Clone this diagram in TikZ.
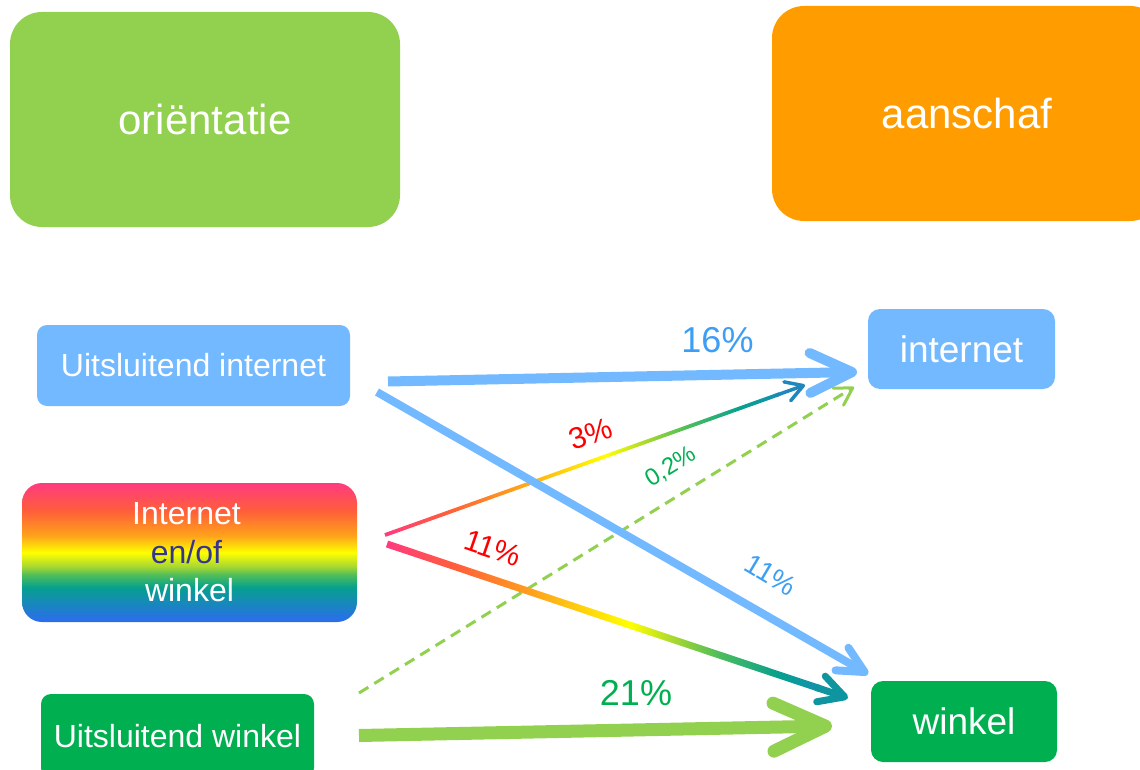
\documentclass[tikz,border=0pt]{standalone}
\usepackage{fontspec}
\setmainfont{Liberation Sans}
\usetikzlibrary{arrows.meta,calc}
\definecolor{lgreen}{HTML}{92D050}
\definecolor{dgreen}{HTML}{00B050}
\definecolor{lblue}{HTML}{73B9FF}
\definecolor{tblue}{HTML}{3C9EF5}
\definecolor{orng}{HTML}{FF9C00}
\definecolor{enof}{HTML}{35358F}
\definecolor{rpink}{HTML}{FF3B80}
\definecolor{rred}{HTML}{FF5E3A}
\definecolor{rorange}{HTML}{FFA31A}
\definecolor{ryellow}{HTML}{FFFF00}
\definecolor{rlime}{HTML}{A8D830}
\definecolor{rgreen}{HTML}{50BE5A}
\definecolor{rteal}{HTML}{06A08E}
\definecolor{rblue}{HTML}{2C6CF0}
\definecolor{rbluet}{HTML}{1590B0}
\definecolor{tipa}{HTML}{1F86BE}
\definecolor{tipb}{HTML}{0E95A0}
\pgfdeclareverticalshading{rainbowv}{100bp}{color(0bp)=(rblue); color(25bp)=(rblue); color(37.5bp)=(rteal); color(42bp)=(rgreen); color(45bp)=(rlime); color(50bp)=(ryellow); color(56bp)=(rorange); color(65bp)=(rred); color(75bp)=(rpink); color(100bp)=(rpink)}
\pgfdeclarehorizontalshading{rainbowh}{100bp}{color(0bp)=(rpink); color(25bp)=(rpink); color(33bp)=(rred); color(42bp)=(rorange); color(53bp)=(ryellow); color(58bp)=(rlime); color(63bp)=(rgreen); color(70bp)=(rteal); color(75bp)=(rbluet); color(100bp)=(rbluet)}
\newcommand\gradline[3]{%
  \path let \p1=($(#2)-(#1)$) in \pgfextra{%
    \pgfmathsetmacro\gang{atan2(\y1,\x1)}\pgfmathsetmacro\glen{veclen(\x1,\y1)}%
    \xdef\gang{\gang}\xdef\glen{\glen}};
  \begin{scope}[shift={(#1)}, rotate=\gang]
    \shade[shading=rainbowh] (0pt,-#3/2) rectangle (0.94*\glen pt, #3/2);
  \end{scope}}
\tikzset{
  phase/.style={rounded corners=32pt, text=white, font=\fontsize{42}{50}\selectfont, inner sep=0pt},
  src/.style={rounded corners=10pt, text=white, font=\fontsize{32}{38}\selectfont, inner sep=0pt},
  dst/.style={rounded corners=12pt, text=white, font=\fontsize{37}{44}\selectfont, inner sep=0pt},
  pct/.style={font=\fontsize{36}{42}\selectfont, inner sep=0pt},
  pctsm/.style={font=\fontsize{30}{36}\selectfont, inner sep=0pt},
}
\begin{document}
\begin{tikzpicture}[x=1pt,y=-1pt]
\useasboundingbox (0,0) rectangle (1140,770);
\clip (0,0) rectangle (1140,770);
% boxes
\node[phase, fill=lgreen, minimum width=390pt, minimum height=215pt] (orient) at (205,119.5) {oriëntatie};
\node[phase, fill=orng, minimum width=390pt, minimum height=215pt] (aansch) at (967,113.5) {aanschaf};
\node[src, fill=lblue, minimum width=313pt, minimum height=81pt] (uint) at (193.5,365.5) {Uitsluitend internet};
\node[src, fill=dgreen, minimum width=273pt, minimum height=84pt] (uwin) at (177.5,736) {Uitsluitend winkel};
\node[dst, fill=lblue, minimum width=187pt, minimum height=80pt] (inet) at (961.5,349) {internet};
\node[dst, fill=dgreen, minimum width=186pt, minimum height=81pt] (wink) at (964,721.5) {winkel};
\node[shade, shading=rainbowv, rounded corners=20pt, minimum width=335pt, minimum height=139pt,
      align=center, font=\fontsize{32}{38.5}\selectfont, inner sep=0pt] (mix) at (189.5,552.5)
      {\textcolor{white}{Internet\hspace{6pt}}\\\textcolor{enof}{en/of\hspace{6pt}}\\\textcolor{white}{winkel}};
% connector end points
\coordinate (c16s) at (388,381.5);
\coordinate (c16e) at (857,372);
\coordinate (b11s) at (377,392);
\coordinate (b11e) at (868,674);
\coordinate (g3s) at (385,535);
\coordinate (g3e) at (805,385);
\coordinate (g11s) at (387,544);
\coordinate (g11e) at (848,698);
\coordinate (d02s) at (359,693);
\coordinate (d02e) at (854,387);
\coordinate (c21s) at (359,735.5);
\coordinate (c21e) at (832,726);
% connectors
\draw[lgreen, line width=3pt, dash pattern=on 11pt off 7pt,
      -{Straight Barb[length=17pt,width=20pt,round]}] (d02s) -- (d02e);
\gradline{g3s}{g3e}{3.8pt}
\draw[tipa, line width=3.5pt, -{Straight Barb[length=17pt,width=20pt,round]}] ($(g3s)!0.93!(g3e)$) -- (g3e);
\gradline{g11s}{g11e}{7pt}
\draw[tipb, line width=7pt, -{Straight Barb[length=25pt,width=27pt,round]}] ($(g11s)!0.93!(g11e)$) -- (g11e);
\draw[lblue, line width=8pt, -{Straight Barb[length=26pt,width=26pt,round]}] (b11s) -- (b11e);
\draw[lblue, line width=10pt, -{Straight Barb[length=42pt,width=40pt,round]}] (c16s) -- (c16e);
\draw[lgreen, line width=13pt, -{Straight Barb[length=52pt,width=48pt,round]}] (c21s) -- (c21e);
% labels
\node[pct, text=tblue] (l16) at (717.5,340) {16\%};
\node[pct, text=dgreen] (l21) at (636,693) {21\%};
\node[pctsm, text=red, rotate=19.4] (l3) at (591,434) {3\%};
\node[pctsm, text=red, rotate=-19] (l11r) at (493,548) {11\%};
\node[font=\fontsize{24}{29}\selectfont, inner sep=0pt, text=dgreen, rotate=31.6] (l02) at (671,467) {0,2\%};
\node[font=\fontsize{28}{33}\selectfont, inner sep=0pt, text=tblue, rotate=-30.7] (l11b) at (771,575) {11\%};
\end{tikzpicture}
\end{document}
